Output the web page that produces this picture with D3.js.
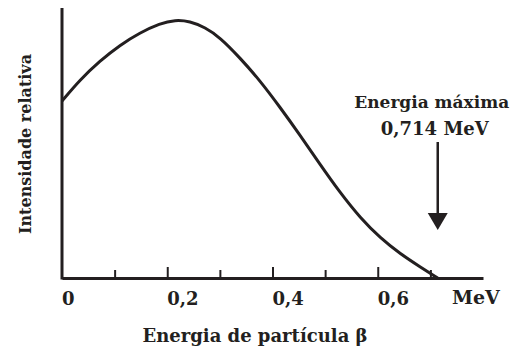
<!DOCTYPE html>
<html>
<head>
<meta charset="utf-8">
<script src="https://cdn.jsdelivr.net/npm/d3@7"></script>
<style>
  body { margin: 0; background: #fff; }
  text { font-family: "DejaVu Serif", serif; font-weight: bold; fill: #231f20; }
</style>
</head>
<body>
<svg id="chart" width="512" height="349"></svg>
<script>
// beta spectrum (energy in MeV, relative intensity 0..1)
const energy = [0, 0.034, 0.072, 0.110, 0.148, 0.186, 0.215, 0.243, 0.272, 0.300, 0.338,
                0.376, 0.414, 0.452, 0.490, 0.529, 0.567, 0.605, 0.643, 0.681, 0.714];
const intensity = [0.660, 0.739, 0.810, 0.869, 0.915, 0.950, 0.963, 0.958, 0.935, 0.898, 0.822,
                   0.737, 0.638, 0.534, 0.425, 0.317, 0.224, 0.149, 0.090, 0.041, 0];
const tickValues = [0.1, 0.2, 0.3, 0.4, 0.5, 0.6, 0.7];
const majorTicks = [0.2, 0.4, 0.6];
const tickLabelValues = [0, 0.2, 0.4, 0.6];
const tickLabels = ['0', '0,2', '0,4', '0,6'];
const maxEnergy = 0.714;

const ink = '#231f20';
const svg = d3.select('#chart');

/********* scales *********/
const x = d3.scaleLinear().domain([0, 0.8]).range([62, 483]);
const y = d3.scaleLinear().domain([0, 1]).range([278, 10]);

/********* x axis (ticks point up) *********/
const xAxis = svg.append('g')
  .attr('transform', `translate(0, ${y(0)})`)
  .call(d3.axisBottom(x)
    .tickValues(tickValues)
    .tickSizeInner(-8)
    .tickSizeOuter(0)
    .tickFormat(''));

xAxis.select('.domain').attr('stroke', ink).attr('stroke-width', 3);
xAxis.selectAll('.tick line')
  .attr('stroke', ink)
  .attr('stroke-width', 2)
  .attr('y2', d => majorTicks.includes(d) ? -11 : -8);

/********* y axis: plain line *********/
svg.append('line')
  .attr('x1', x(0)).attr('x2', x(0))
  .attr('y1', y(1) - 2).attr('y2', y(0) + 1.5)
  .attr('stroke', ink)
  .attr('stroke-width', 3);

/********* curve *********/
const pts = energy.map((e, i) => [e, intensity[i]]);
const line = d3.line()
  .x(d => x(d[0]))
  .y(d => y(d[1]))
  .curve(d3.curveBasis);

svg.append('path')
  .datum(pts)
  .attr('d', line)
  .attr('fill', 'none')
  .attr('stroke', ink)
  .attr('stroke-width', 3);

/********* tick labels *********/
svg.selectAll('.tick-label')
  .data(tickLabelValues)
  .enter()
  .append('text')
  .attr('class', 'tick-label')
  .attr('x', d => x(d))
  .attr('y', 305)
  .style('font-size', '18px')
  .text((d, i) => tickLabels[i]);

svg.append('text')
  .attr('x', 452)
  .attr('y', 304)
  .style('font-size', '19px')
  .text('MeV');

/********* axis titles *********/
svg.append('text')
  .attr('x', 255)
  .attr('y', 342)
  .attr('text-anchor', 'middle')
  .style('font-size', '18px')
  .text('Energia de partícula β');

svg.append('text')
  .attr('transform', 'translate(31, 144) rotate(-90)')
  .attr('text-anchor', 'middle')
  .style('font-size', '16px')
  .text('Intensidade relativa');

/********* max energy annotation *********/
const ax = x(maxEnergy);
svg.append('text')
  .attr('x', ax - 6)
  .attr('y', 108)
  .attr('text-anchor', 'middle')
  .style('font-size', '17px')
  .text('Energia máxima');

svg.append('text')
  .attr('x', ax - 3)
  .attr('y', 135)
  .attr('text-anchor', 'middle')
  .style('font-size', '18px')
  .text('0,714 MeV');

svg.append('line')
  .attr('x1', ax).attr('x2', ax)
  .attr('y1', 142).attr('y2', 215)
  .attr('stroke', ink)
  .attr('stroke-width', 2.5);

svg.append('path')
  .attr('d', `M${ax - 10},213 L${ax + 10},213 L${ax},230 Z`)
  .attr('fill', ink);
</script>
</body>
</html>
